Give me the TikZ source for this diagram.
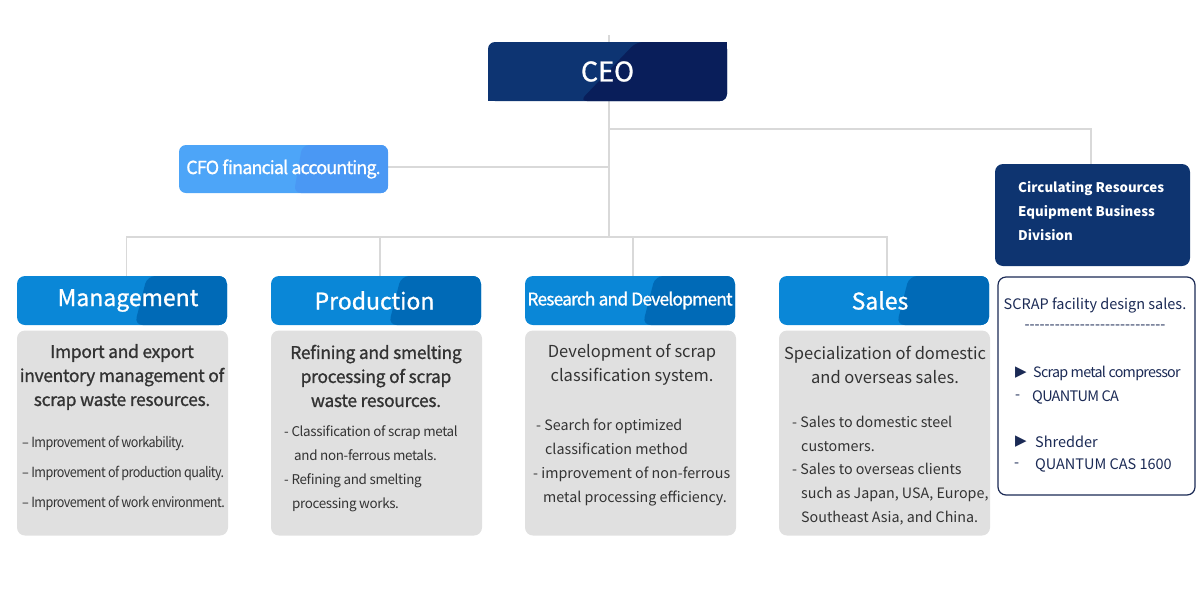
\documentclass[tikz,border=0pt]{standalone}
\usepackage{fontspec}
\setmainfont{Noto Sans CJK KR}
\newfontfamily\tightfont[LetterSpace=-5]{Noto Sans CJK KR}
\newfontfamily\lightfont[LetterSpace=-2.5]{Noto Sans CJK KR}
\newfontfamily\medfont[FakeBold=1]{Noto Sans CJK KR}
\newfontfamily\medlightfont[FakeBold=1,LetterSpace=-2]{Noto Sans CJK KR}
\newfontfamily\medtightfont[FakeBold=1,LetterSpace=-5]{Noto Sans CJK KR}
\newfontfamily\narrowfont[FakeStretch=0.9,LetterSpace=-4]{Noto Sans CJK KR}
\newfontfamily\dashfont[Ligatures=TeXOff]{Noto Sans CJK KR}
\newfontfamily\symfont{DejaVu Sans}
\usetikzlibrary{calc,backgrounds}
\definecolor{ceoA}{HTML}{0D3472}
\definecolor{ceoB}{HTML}{091E5A}
\definecolor{cfoA}{HTML}{4DA5F8}
\definecolor{cfoB}{HTML}{4A98F4}
\definecolor{hdrA}{HTML}{0A87D7}
\definecolor{hdrB}{HTML}{006AB7}
\definecolor{navy}{HTML}{0E3470}
\definecolor{boxgray}{HTML}{E0E0E0}
\definecolor{txt}{HTML}{333333}
\definecolor{ink}{HTML}{1B2A55}
\definecolor{conncol}{HTML}{D9D9D9}
\tikzset{
  split/.style n args={3}{path picture={\fill[#1]
    ($(path picture bounding box.north west)!#2!(path picture bounding box.north east)$)
    -- (path picture bounding box.north east) -- (path picture bounding box.south east)
    -- ($(path picture bounding box.south west)!#3!(path picture bounding box.south east)$) -- cycle;}},
  ceobox/.style={rounded corners=7pt, fill=ceoA, split={ceoB}{0.62}{0.385}, minimum width=239pt, minimum height=59pt, inner sep=0pt, text=white, font=\medfont\fontsize{27}{30}\selectfont},
  cfobox/.style={rounded corners=7pt, fill=cfoA, split={cfoB}{0.59}{0.55}, minimum width=209pt, minimum height=48pt, inner sep=0pt, text=white, font=\medtightfont\fontsize{18}{20}\selectfont},
  circbox/.style={rounded corners=8pt, fill=navy, minimum width=195pt, minimum height=102pt, inner sep=0pt},
  circtext/.style={anchor=west, align=left, inner sep=0pt, text=white, font=\bfseries\fontsize{13.3}{24}\selectfont},
  scrapbox/.style={rounded corners=8pt, draw=ink, line width=1.2pt, fill=white, minimum width=197pt, minimum height=218pt, inner sep=0pt},
  scraptext/.style={anchor=west, inner sep=0pt, text=ink, font=\fontsize{14.5}{18}\selectfont},
  hdrbox/.style={rounded corners=8pt, fill=hdrA, split={hdrB}{0.62}{0.56}, minimum width=210pt, minimum height=49pt, inner sep=0pt, text=white, font=\medfont\fontsize{23}{28}\selectfont},
  graybox/.style={rounded corners=8pt, fill=boxgray, minimum width=211pt, minimum height=205pt, inner sep=0pt},
  maintext/.style={align=center, inner sep=0pt, text=txt},
  bullettext/.style={anchor=west, align=left, inner sep=0pt, text=txt},
  conn/.style={draw=conncol, line width=1.3pt}
}
\begin{document}
\begin{tikzpicture}[x=1pt,y=-1pt]
\useasboundingbox (0,0) rectangle (1200,590);

% top nodes
\node[ceobox] (ceo) at (607.5,71.5) {CEO};
\fill[ceoB] ([xshift=-8pt,yshift=-8pt]ceo.north east) rectangle (ceo.north east);
\fill[ceoA] (ceo.south west) rectangle ([xshift=8pt,yshift=8pt]ceo.south west);
\node[cfobox] (cfo) at (283.5,169) {CFO financial accounting.};
\node[circbox] (circ) at (1092.5,215) {};
\node[circtext] (circt) at (1018,211) {Circulating Resources\\Equipment Business\\Division};

% scrap box
\node[scrapbox] (scrap) at (1096.5,386) {};
\node[scraptext, anchor=center] (s1) at (1095,305) {SCRAP facility design sales.};
\node[scraptext, anchor=center, font=\dashfont\fontsize{14.5}{18}\selectfont] (s2) at (1095,327) {----------------------------};
\node[scraptext] (s3t) at (1015,373) {\symfont\fontsize{15}{16}\selectfont ▶};
\node[scraptext, font=\tightfont\fontsize{14.3}{18}\selectfont] (s3) at (1033,373) {Scrap metal compressor};
\node[scraptext] (s4d) at (1015,397) {-};
\node[scraptext, font=\tightfont\fontsize{14.5}{18}\selectfont] (s4) at (1032,397) {QUANTUM CA};
\node[scraptext] (s5t) at (1015,442) {\symfont\fontsize{15}{16}\selectfont ▶};
\node[scraptext] (s5) at (1035,442) {Shredder};
\node[scraptext] (s6d) at (1014,465) {-};
\node[scraptext] (s6) at (1035,465) {QUANTUM CAS 1600};

% department headers
\node[hdrbox] (mgmt) at (122,300.5) {\hspace*{12pt}Management};
\node[hdrbox] (prod) at (376,300.5) {\hspace*{-3pt}Production};
\node[hdrbox, font=\medtightfont\fontsize{17.5}{20}\selectfont] (rnd) at (630,300.5) {Research and Development};
\node[hdrbox] (sales) at (884,300.5) {\hspace*{-8pt}Sales};

% gray boxes
\node[graybox] (g1) at (122.5,433) {};
\node[graybox] (g2) at (376.5,433) {};
\node[graybox] (g3) at (630.5,433) {};
\node[graybox] (g4) at (884.5,433) {};

% management text
\node[maintext, font=\medlightfont\fontsize{17.5}{24}\selectfont] (m1) at (122,377) {Import and export\\inventory management of\\scrap waste resources.};
\node[bullettext, font=\narrowfont\fontsize{14}{30}\selectfont] (m2) at (22,473) {\textendash\,Improvement of workability.\\\textendash\,Improvement of production quality.\\\textendash\,Improvement of work environment.};

% production text
\node[maintext, font=\medlightfont\fontsize{17.5}{24}\selectfont] (p1) at (376,376) {Refining and smelting\\processing of scrap\\waste resources.};
\node[bullettext, font=\lightfont\fontsize{13.4}{24}\selectfont] (p2) at (284,469) {- Classification of scrap metal\\\hspace*{10pt}and non-ferrous metals.\\- Refining and smelting\\\hspace*{8pt}processing works.};

% R&D text
\node[maintext, font=\fontsize{16.5}{24}\selectfont] (r1) at (632,365) {Development of scrap\\classification system.};
\node[bullettext, font=\fontsize{14.3}{23.7}\selectfont] (r2) at (533,462.5) {\hspace*{3pt}- Search for optimized\\\hspace*{12pt}classification method\\- improvement of non-ferrous\\\hspace*{10pt}metal processing efficiency.};

% sales text
\node[maintext, font=\fontsize{16.5}{24}\selectfont] (t1) at (885,364.5) {Specialization of domestic\\and overseas sales.};
\node[bullettext, font=\fontsize{14.3}{23.8}\selectfont] (t2) at (792,470.5) {- Sales to domestic steel\\\hspace*{9pt}customers.\\- Sales to overseas clients\\\hspace*{9pt}such as Japan, USA, Europe,\\\hspace*{9pt}Southeast Asia, and China.};

% connectors
\coordinate (top) at (609,35);
\coordinate (j1) at (609,129);
\coordinate (j2) at (609,167);
\coordinate (j3) at (609,237);
\begin{scope}[on background layer]
\draw[conn] (top) -- (j3);
\draw[conn] (j1) -| ([xshift=-1.5pt]circ.north);
\draw[conn] (j2) -- (j2 -| cfo.east);
\draw[conn] ([xshift=4.5pt]mgmt.north) |- (j3) -| ([xshift=3pt]sales.north);
\draw[conn] ([xshift=4pt]prod.north) -- ([xshift=4pt]prod.north |- j3);
\draw[conn] ([xshift=3pt]rnd.north) -- ([xshift=3pt]rnd.north |- j3);
\end{scope}
\end{tikzpicture}
\end{document}
